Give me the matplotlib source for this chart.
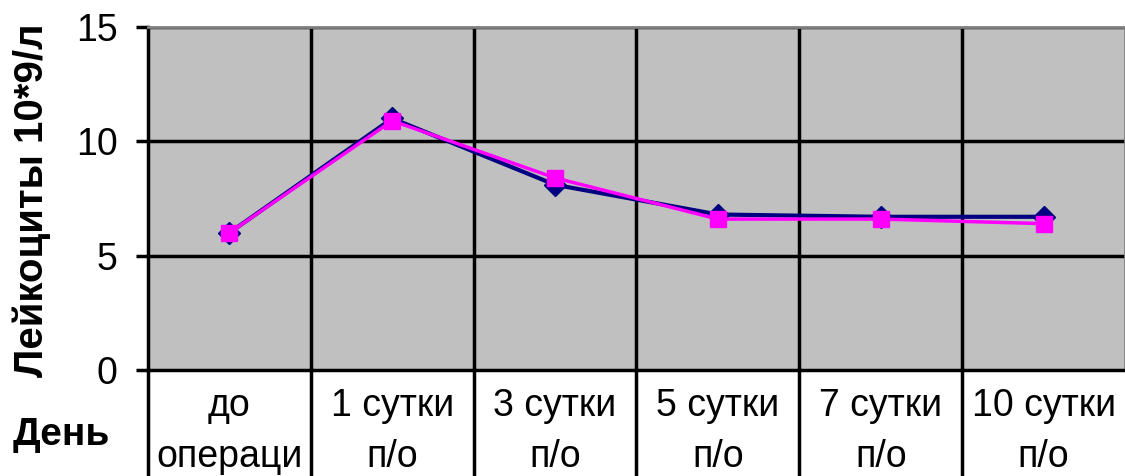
import matplotlib.pyplot as plt

# day categories (two lines each) and leukocyte values
line1 = ["до", "1 сутки", "3 сутки", "5 сутки", "7 сутки", "10 сутки"]
line2 = ["операци", "п/о", "п/о", "п/о", "п/о", "п/о"]
series_a = [6.0, 11.0, 8.1, 6.8, 6.7, 6.7]
series_b = [6.0, 10.9, 8.4, 6.6, 6.6, 6.4]

plt.rcParams['font.family'] = ['Liberation Sans', 'DejaVu Sans']

W, H = 1125, 476
fig = plt.figure(figsize=(W / 100, H / 100), dpi=100)
ax = fig.add_axes([148 / W, (H - 370) / H, 977 / W, 343 / H])
ax.set_facecolor("#C0C0C0")

x = list(range(len(line1)))
ax.plot(x, series_a, color="#000080", lw=3, marker="D", ms=11, zorder=3)
ax.plot(x, series_b, color="#FF00FF", lw=2.5, marker="s", ms=12, zorder=4)

ax.set_xlim(-0.5, len(line1) - 0.5)
ax.set_ylim(0, 15)
ax.set_yticks([0, 5, 10, 15])
ax.tick_params(axis="y", labelsize=27, length=9, width=2.5, pad=13)
ax.set_xticks([])

for yv in [5, 10, 15]:
    ax.axhline(yv, color="black", lw=2.5, zorder=1)
for xv in [i + 0.5 for i in x[:-1]]:
    ax.axvline(xv, color="black", lw=2.5, zorder=1)

for s in ["top", "right"]:
    ax.spines[s].set_color("#808080")
    ax.spines[s].set_linewidth(2)
ax.spines["left"].set_linewidth(2.5)
ax.spines["bottom"].set_linewidth(2.5)

# category table below the plot
trans = ax.get_xaxis_transform()
for xv in [i - 0.5 for i in x]:
    ax.plot([xv, xv], [0, -0.32], color="black", lw=2.5, transform=trans, clip_on=False)
for i in x:
    ax.text(i, -(416 - 370) / 343, line1[i], transform=trans, ha="center", va="baseline", fontsize=27)
    ax.text(i, -(467 - 370) / 343, line2[i], transform=trans, ha="center", va="baseline", fontsize=27)

fig.text(32 / W, 1 - 200 / H, "Лейкоциты 10*9/л", fontsize=29, fontweight="bold",
         rotation=90, ha="center", va="center")
fig.text(61 / W, 1 - 445 / H, "День", fontsize=28, fontweight="bold", ha="center", va="baseline")

fig.savefig("out.png", dpi=100)
